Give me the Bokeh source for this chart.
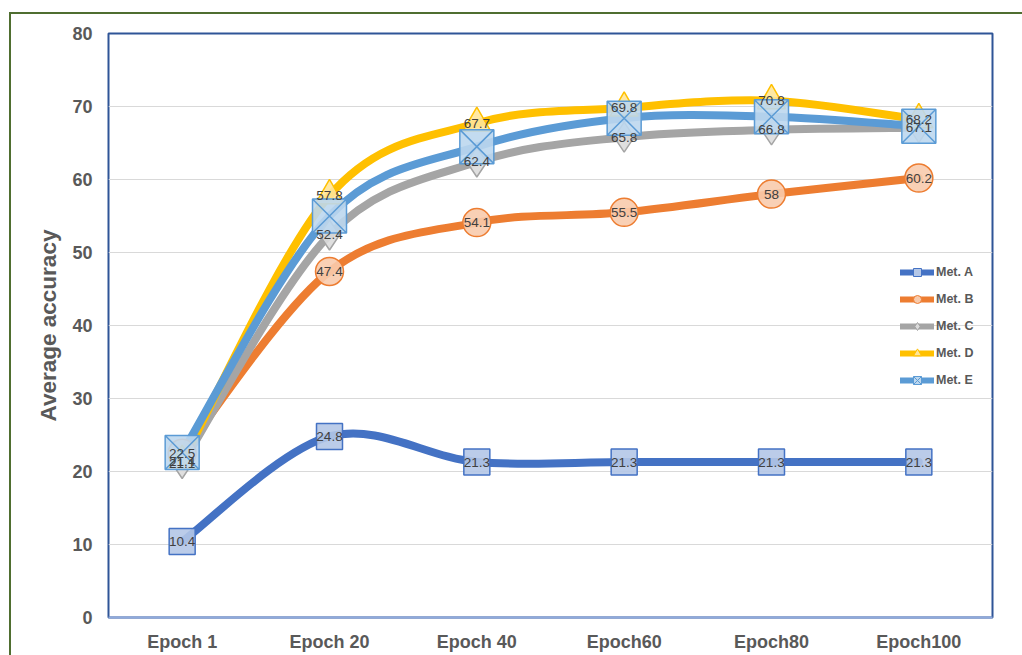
from bokeh.plotting import figure
from bokeh.models import Range1d, FixedTicker, Legend, LegendItem, ColumnDataSource
from bokeh.core.properties import value
from bokeh.embed import file_html
from bokeh.resources import INLINE

categories = ["Epoch 1", "Epoch 20", "Epoch 40", "Epoch60", "Epoch80", "Epoch100"]
met_a = [10.4, 24.8, 21.3, 21.3, 21.3, 21.3]
met_b = [22.5, 47.4, 54.1, 55.5, 58.0, 60.2]
met_c = [21.1, 52.4, 62.4, 65.8, 66.8, 67.1]
met_d = [21.4, 57.8, 67.7, 69.8, 70.8, 68.2]
met_e = [22.6, 55.0, 64.5, 68.4, 68.6, 67.3]
y_ticks = [0, 10, 20, 30, 40, 50, 60, 70, 80]

series = [
    ("Met. A", met_a, "#4472C4", "square", "#b4c7e7", 26, True),
    ("Met. B", met_b, "#ED7D31", "circle", "#f8cbad", 28, True),
    ("Met. C", met_c, "#A5A5A5", "diamond", "#dbdbdb", 30, True),
    ("Met. D", met_d, "#FFC000", "triangle", "#ffe699", 28, True),
    ("Met. E", met_e, "#5B9BD5", "square_x", "#bdd7ee", 34, False),
]

FONT = "Liberation Sans"
GREY = "#595959"

p = figure(width=1013, height=643, output_backend="svg", toolbar_location=None,
           x_range=Range1d(-0.5, 5.5), y_range=Range1d(0, 80),
           min_border_left=97, min_border_right=32, min_border_top=19, min_border_bottom=40)
p.margin = (12, 0, 0, 9)
p.styles = {"border-left": "2px solid #4f6e30", "border-top": "2px solid #4f6e30"}
p.background_fill_color = "white"
p.border_fill_color = "white"
p.outline_line_color = "#2f5597"
p.outline_line_width = 2

xs = list(range(len(categories)))
p.xaxis.ticker = FixedTicker(ticks=xs)
p.xaxis.major_label_overrides = {i: c for i, c in enumerate(categories)}
p.yaxis.ticker = FixedTicker(ticks=y_ticks)
for ax in (p.xaxis, p.yaxis):
    ax.major_label_text_font = FONT
    ax.major_label_text_font_style = "bold"
    ax.major_label_text_font_size = "18px"
    ax.major_label_text_color = GREY
    ax.major_tick_line_color = None
    ax.minor_tick_line_color = None
p.yaxis.axis_line_color = None
p.xaxis.axis_line_color = "#8faadc"
p.xaxis.axis_line_width = 2
p.xaxis.major_label_standoff = 8
p.yaxis.major_label_standoff = 10
p.yaxis.axis_label = "Average accuracy"
p.yaxis.axis_label_text_font = FONT
p.yaxis.axis_label_text_font_style = "bold"
p.yaxis.axis_label_text_font_size = "22.5px"
p.yaxis.axis_label_text_color = GREY
p.yaxis.axis_label_standoff = 8
p.xgrid.grid_line_color = None
p.ygrid.grid_line_color = "#d9d9d9"
p.ygrid.grid_line_width = 1.2


def bezier_source(ys):
    n = len(ys)
    d = dict(x0=[], y0=[], x1=[], y1=[], cx0=[], cy0=[], cx1=[], cy1=[])
    for i in range(n - 1):
        xm, ym = xs[max(i - 1, 0)], ys[max(i - 1, 0)]
        xa, ya = xs[i], ys[i]
        xb, yb = xs[i + 1], ys[i + 1]
        xp, yp = xs[min(i + 2, n - 1)], ys[min(i + 2, n - 1)]
        d["x0"].append(xa); d["y0"].append(ya)
        d["x1"].append(xb); d["y1"].append(yb)
        d["cx0"].append(xa + (xb - xm) / 6); d["cy0"].append(ya + (yb - ym) / 6)
        d["cx1"].append(xb - (xp - xa) / 6); d["cy1"].append(yb - (yp - ya) / 6)
    return ColumnDataSource(d)


# lines
for name, ys, col, mk, fill, sz, lab in series:
    p.bezier(x0="x0", y0="y0", x1="x1", y1="y1", cx0="cx0", cy0="cy0", cx1="cx1", cy1="cy1",
             source=bezier_source(ys), line_color=col, line_width=8, line_cap="round")

# markers
for name, ys, col, mk, fill, sz, lab in series:
    p.scatter(xs, ys, marker=mk, size=sz, fill_color=fill, fill_alpha=0.9,
              line_color=col, line_width=1.5)

# data labels
for name, ys, col, mk, fill, sz, lab in series:
    if lab:
        p.text(xs, ys, text=[("%g" % v) for v in ys], text_align="center", text_baseline="middle",
               text_font=value(FONT), text_font_size="13.5px", text_color="#404040")

# legend with dummy renderers
items = []
for name, ys, col, mk, fill, sz, lab in series:
    lr = p.line([float("nan")], [float("nan")], line_color=col, line_width=6, line_cap="round")
    sr = p.scatter([float("nan")], [float("nan")], marker=mk, size=8, fill_color=fill,
                   line_color=col, line_width=1)
    items.append(LegendItem(label=name, renderers=[lr, sr]))

legend = Legend(items=items, location=(792, 227), glyph_width=34, glyph_height=20,
                spacing=7, padding=0, margin=0, label_standoff=2,
                label_text_font=FONT, label_text_font_size="12.5px",
                label_text_font_style="bold", label_text_color=GREY,
                border_line_color=None, background_fill_alpha=0)
p.add_layout(legend, "center")

open("out.html", "w").write(file_html(p, INLINE))
